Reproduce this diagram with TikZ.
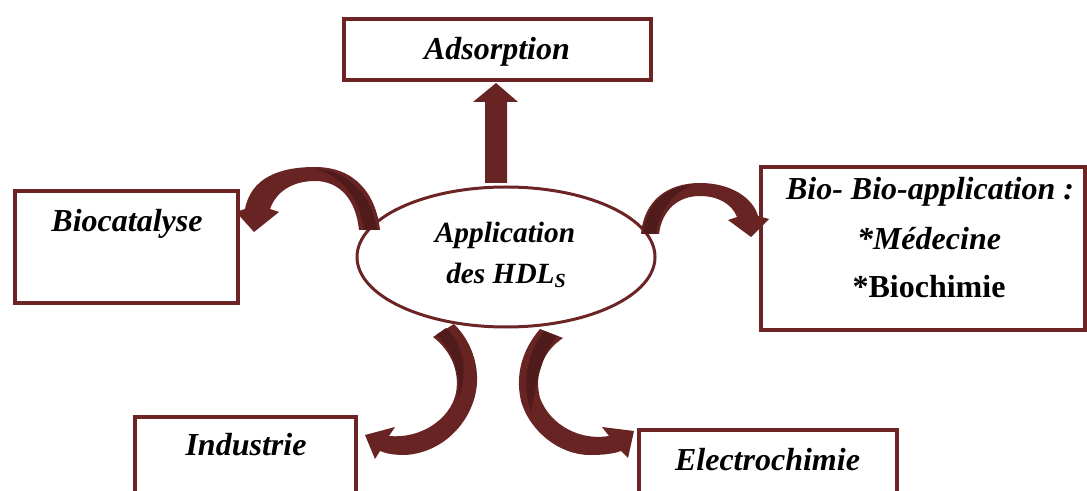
\documentclass[tikz,border=0pt]{standalone}
\usepackage{fontspec}
\setmainfont{Liberation Serif}
\usetikzlibrary{shapes.geometric}
\definecolor{boxc}{RGB}{108,36,36}
\definecolor{arrc}{RGB}{104,35,35}
\definecolor{arrd}{RGB}{80,27,27}
\begin{document}
\begin{tikzpicture}[x=0.75pt,y=-0.75pt,
  boxnode/.style={draw=boxc, line width=3pt, rectangle, inner sep=0pt},
  lbl/.style={font=\fontsize{24}{28}\selectfont\bfseries\itshape, inner sep=0pt, anchor=base},
  elbl/.style={font=\fontsize{22}{26}\selectfont\bfseries\itshape, inner sep=0pt, anchor=base},
  arrowfill/.style={fill=arrc, draw=none},
  arrowdark/.style={fill=arrd, draw=none}]
\useasboundingbox (0,0) rectangle (1087,491);
\clip (0,0) rectangle (1087,491);

% central ellipse
\node[ellipse, draw=boxc, fill=white, line width=2.25pt, minimum width=223.5pt, minimum height=105pt, inner sep=0pt] (hub) at (506,257) {};

% up arrow to Adsorption
\fill[arrowfill] (485,183) -- (485,102) -- (473,102) -- (496,83) -- (518,102) -- (507,102) -- (507,183) -- cycle;

% left curved arrow to Biocatalyse
\fill[arrowfill] (380,230) .. controls (376,194) and (355,167) .. (315,167)
  .. controls (279,167) and (251,178) .. (245,209)
  -- (236,212) -- (254,232) -- (279,212) -- (270,209)
  .. controls (276,192) and (292,181) .. (315,181)
  .. controls (340,181) and (356,200) .. (359,230) -- cycle;
\fill[arrowdark] (377,230) .. controls (373,200) and (352,171) .. (316,169)
  .. controls (345,178) and (360,200) .. (364,230) -- cycle;

% right curved arrow to Bio-application
\fill[arrowfill] (641,234) .. controls (644,200) and (668,183) .. (700,183)
  .. controls (731,183) and (753,198) .. (758,216)
  -- (769,219) -- (751,237) -- (728,220) -- (737,217)
  .. controls (732,204) and (718,196) .. (700,196)
  .. controls (678,196) and (662,210) .. (659,234) -- cycle;
\fill[arrowdark] (643,234) .. controls (646,205) and (665,187) .. (692,185)
  .. controls (670,195) and (659,212) .. (656,234) -- cycle;

% bottom-left curved arrow to Industrie
\fill[arrowfill] (454,324) .. controls (474,344) and (481,372) .. (475,396)
  .. controls (467,427) and (440,453) .. (405,455)
  .. controls (395,455) and (387,454) .. (380,451)
  -- (375,459) -- (365,435) -- (395,427) -- (389,436)
  .. controls (420,439) and (450,420) .. (456,393)
  .. controls (460,370) and (450,350) .. (433,337) -- cycle;
\fill[arrowdark] (436,335) .. controls (453,350) and (461,372) .. (458,398)
  .. controls (469,372) and (463,344) .. (446,328) -- cycle;

% bottom-right curved arrow to Electrochimie
\fill[arrowfill] (540,329) .. controls (522,350) and (515,375) .. (521,401)
  .. controls (530,432) and (560,455) .. (590,455)
  .. controls (602,455) and (613,454) .. (621,451)
  -- (628,458) -- (634,431) -- (602,427) -- (609,436)
  .. controls (580,441) and (550,425) .. (540,398)
  .. controls (534,375) and (542,352) .. (563,338) -- cycle;
\fill[arrowdark] (544,331) .. controls (526,355) and (522,385) .. (531,412)
  .. controls (536,385) and (541,355) .. (557,336) -- cycle;

% boxes
\node[boxnode, minimum width=230.25pt, minimum height=45.75pt] (ads) at (497.5,49.5) {};
\node[boxnode, minimum width=167.25pt, minimum height=84pt] (bioc) at (126.5,247) {};
\node[boxnode, minimum width=243pt, minimum height=122.25pt] (bioapp) at (923,248.5) {};
\node[boxnode, minimum width=165.75pt, minimum height=75pt] (ind) at (245.5,467) {};
\node[boxnode, minimum width=193.5pt, minimum height=75pt] (elec) at (768,480) {};

% labels
\node[lbl] (adst) at (497,60) {Adsorption};
\node[lbl] (bioct) at (127,232) {Biocatalyse};
\node[lbl] (indt) at (246,455) {Industrie};
\node[lbl] (elect) at (767.5,470) {Electrochimie};
\node[lbl] (bioa1) at (930,200) {Bio- Bio-application :};
\node[lbl] (bioa2) at (929,250) {*Médecine};
\node[lbl, font=\fontsize{24}{28}\selectfont\bfseries] (bioa3) at (929,297) {*Biochimie};
\node[elbl] (hub1) at (505,243) {Application};
\node[elbl] (hub2) at (506,283) {des HDL\raisebox{-3pt}{\fontsize{15}{15}\selectfont S}};
\end{tikzpicture}
\end{document}
